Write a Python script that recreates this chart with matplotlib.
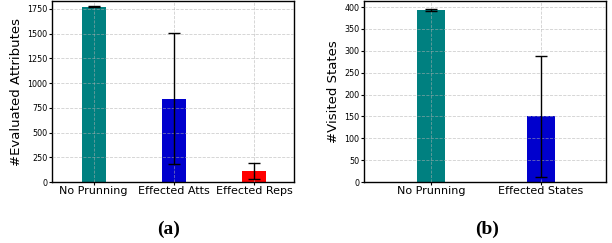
import matplotlib
matplotlib.use('Agg')
import matplotlib.pyplot as plt
import numpy as np

# panel (a)
cats_a = ['No Prunning', 'Effected Atts', 'Effected Reps']
vals_a = [1770, 840, 113]
errs_a = [5, 663, 80]
cols_a = ['#008080', '#0000CD', '#FF0000']

# panel (b)
cats_b = ['No Prunning', 'Effected States']
vals_b = [394, 150]
errs_b = [2, 139]
cols_b = ['#008080', '#0000CD']

fig = plt.figure(figsize=(6.12, 2.43), dpi=100)
ax1 = fig.add_axes([52/612, 1 - 182/243, 242/612, 181/243])
ax2 = fig.add_axes([364/612, 1 - 182/243, 242/612, 181/243])


def draw(ax, cats, vals, errs, cols, width, ylabel, ymax, xlim):
    x = np.arange(len(cats))
    ax.bar(x, vals, width=width, color=cols, zorder=1)
    ax.errorbar(x, vals, yerr=errs, fmt='none', ecolor='black', elinewidth=1,
                capsize=4, capthick=1, zorder=3)
    ax.set_xticks(x)
    ax.set_xticklabels(cats, fontsize=8)
    ax.tick_params(axis='y', labelsize=5.8, length=2, pad=1.5)
    ax.tick_params(axis='x', length=2, pad=1)
    ax.set_ylabel(ylabel, fontsize=9.5, labelpad=3)
    ax.set_ylim(0, ymax)
    ax.set_xlim(*xlim)
    ax.grid(True, linestyle='--', color='#b0b0b0', alpha=0.6, linewidth=0.6, zorder=2)
    ax.set_axisbelow(False)
    for s in ax.spines.values():
        s.set_linewidth(1.0)


draw(ax1, cats_a, vals_a, errs_a, cols_a, 0.3, '#Evaluated Attributes', 1830, (-0.52, 2.5))
ax1.set_yticks([0, 250, 500, 750, 1000, 1250, 1500, 1750])
draw(ax2, cats_b, vals_b, errs_b, cols_b, 0.26, '#Visited States', 414, (-0.61, 1.59))
ax2.set_yticks(range(0, 401, 50))

fig.text(169/612, 1 - 229/243, '(a)', fontsize=14, fontweight='bold',
         family='Liberation Serif', ha='center', va='center')
fig.text(487/612, 1 - 229/243, '(b)', fontsize=14, fontweight='bold',
         family='Liberation Serif', ha='center', va='center')

fig.savefig('out.png', dpi=100)
